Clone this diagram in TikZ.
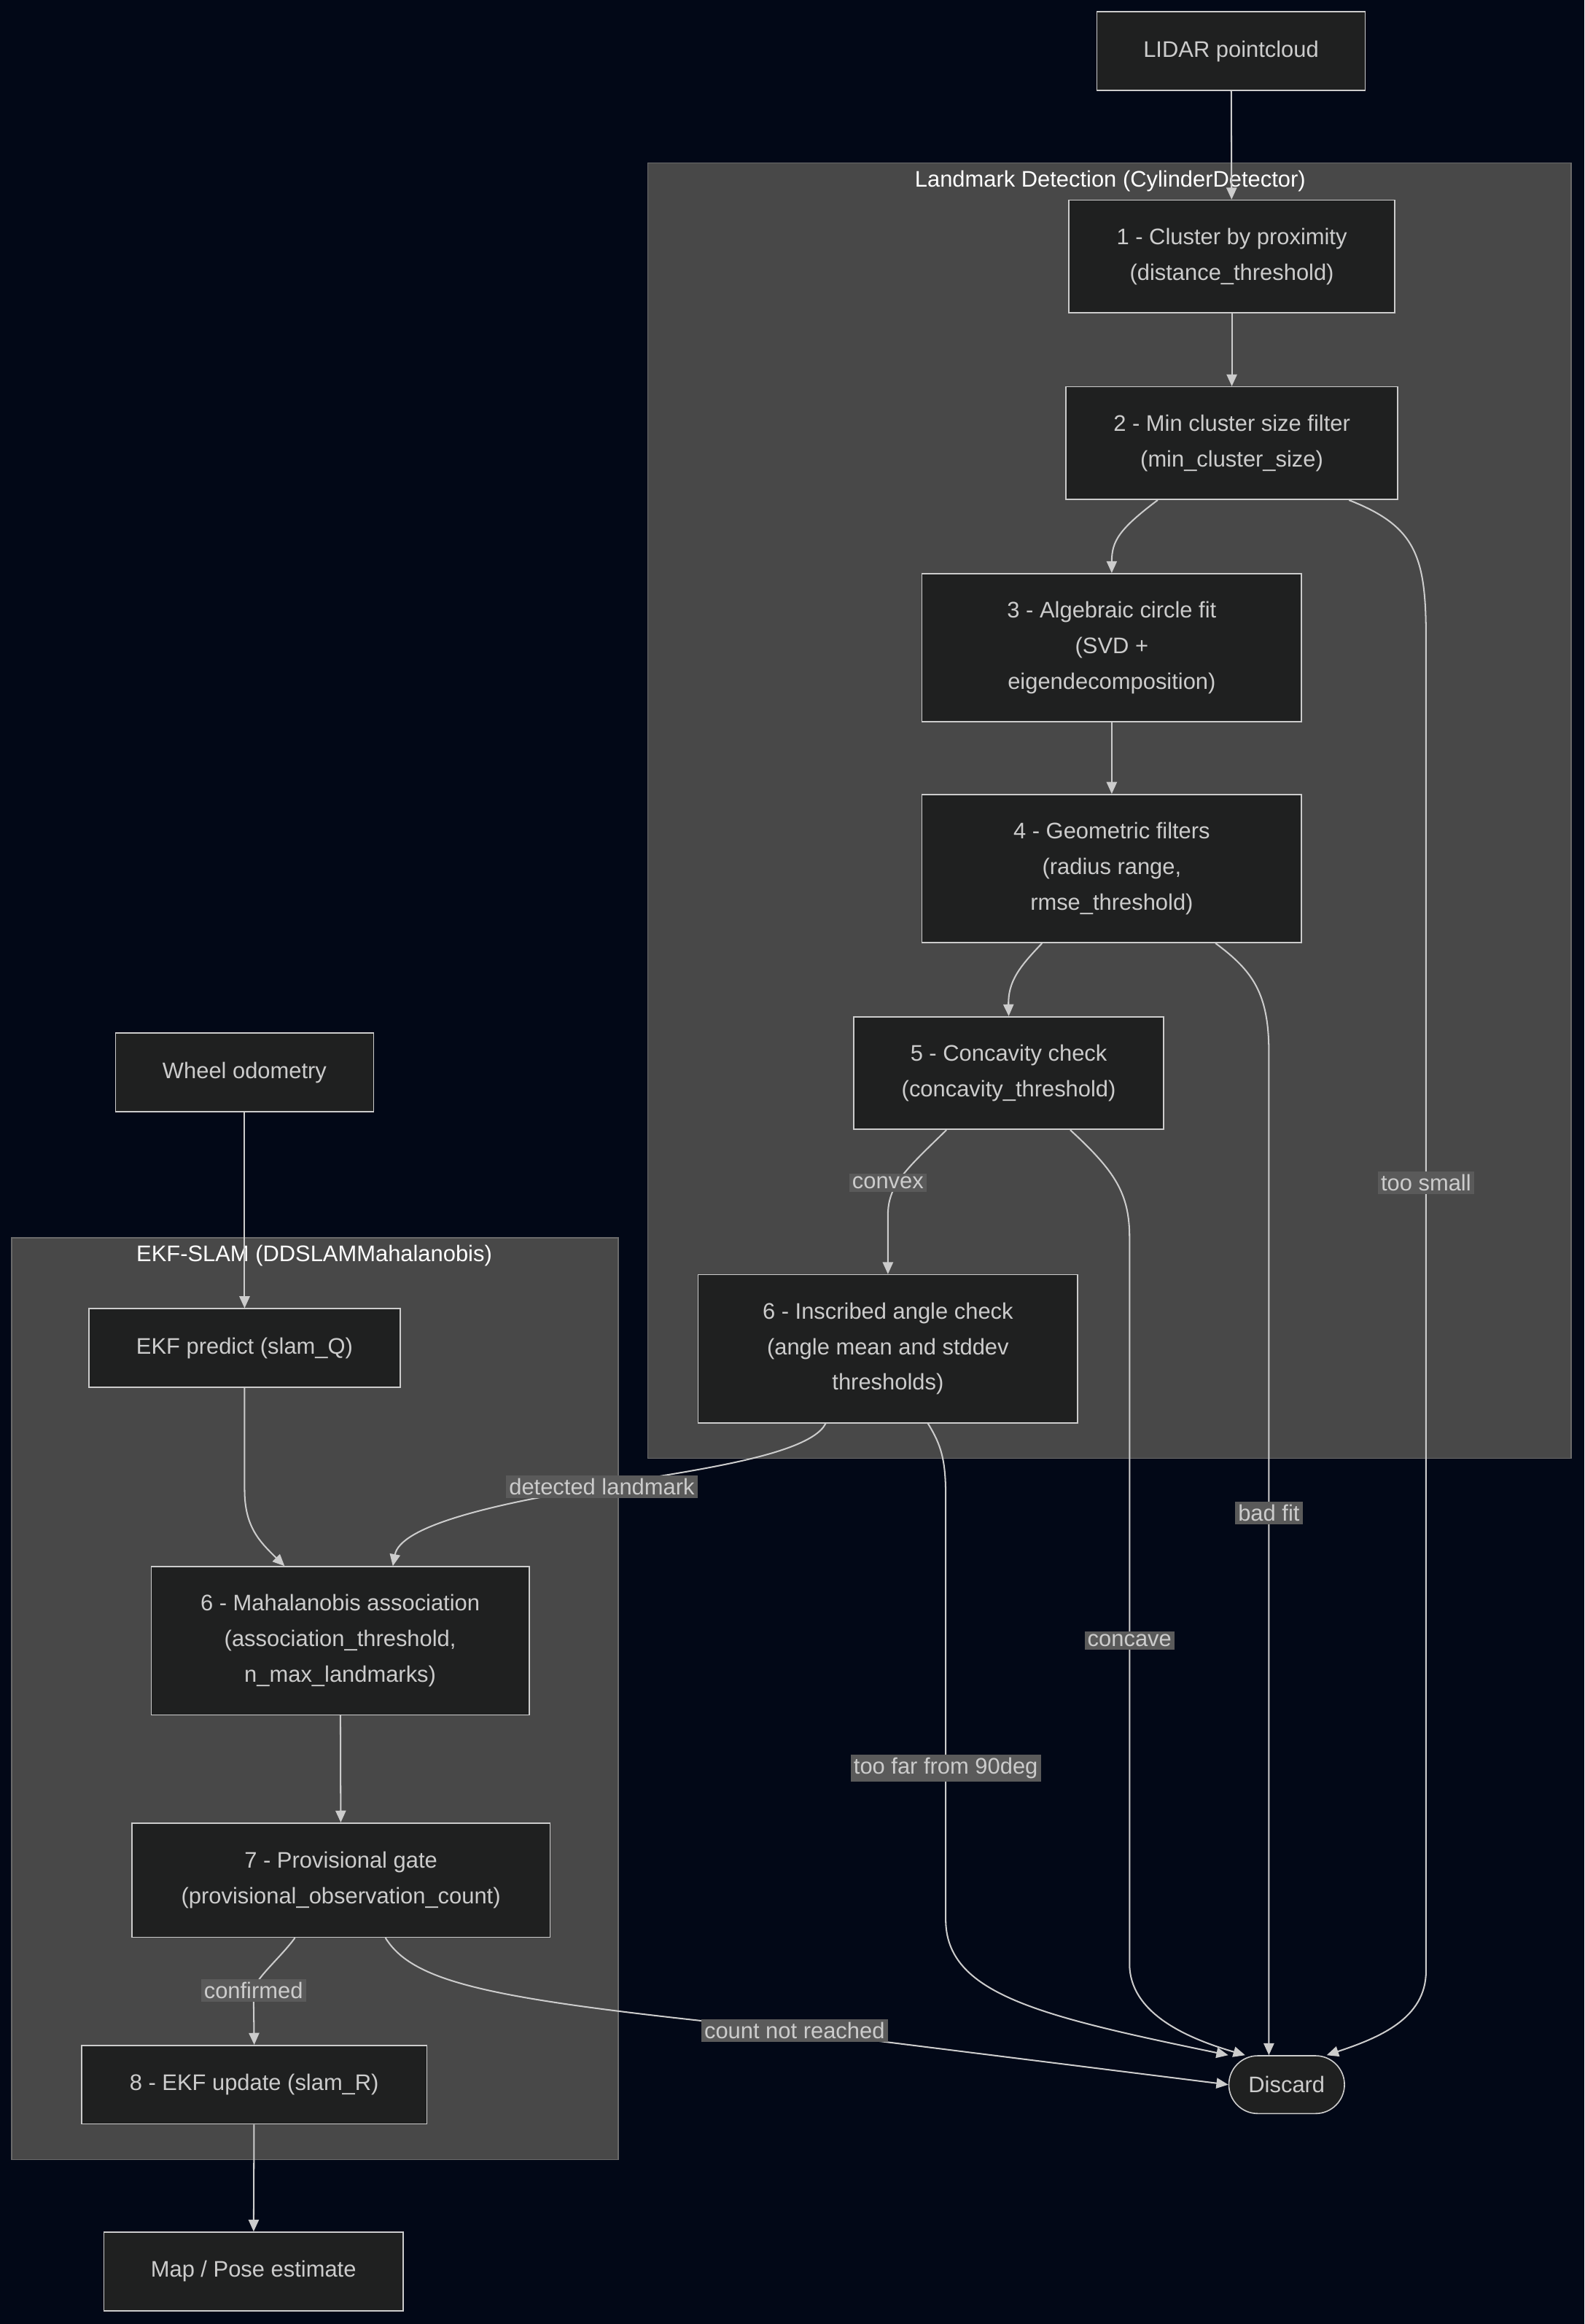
\documentclass[tikz,border=0pt]{standalone}
\usepackage{fontspec}
\setmainfont{Liberation Sans}
\usetikzlibrary{arrows.meta,positioning}
\definecolor{bg}{HTML}{020817}
\definecolor{clu}{HTML}{484848}
\definecolor{clb}{HTML}{6A6A6A}
\definecolor{nf}{HTML}{1F2020}
\definecolor{nb}{HTML}{CCCCCC}
\definecolor{tx}{HTML}{CCCCCC}
\definecolor{lb}{HTML}{5A5A5A}
\begin{document}
\begin{tikzpicture}[x=0.5pt,y=-0.5pt,
  font=\fontsize{7.6}{12}\selectfont,
  box/.style={draw=nb,fill=nf,text=tx,align=center,inner sep=0pt,line width=0.4pt},
  cl/.style={draw=clb,fill=clu,line width=0.4pt},
  ttl/.style={text=white},
  e/.style={draw=nb,line width=0.5pt,-{Triangle[length=4pt,width=3.5pt]}},
  lab/.style={fill=lb,text=tx,inner sep=1pt}]
\fill[bg] (0,0) rectangle (1069,1568);
\useasboundingbox (0,0) rectangle (1069,1568);
\draw[cl] (437,110) rectangle (1060,984);
\node[ttl] (t1) at (749,122) {Landmark Detection (CylinderDetector)};
\draw[cl] (8,835) rectangle (417,1457);
\node[ttl] (t2) at (212,847) {EKF-SLAM (DDSLAMMahalanobis)};

\node[box,minimum width=90.5pt,minimum height=26.5pt] (lidar) at (830.5,34.5) {LIDAR pointcloud};
\node[box,minimum width=110pt,minimum height=38pt] (n1) at (831,173) {1 - Cluster by proximity\\(distance\_threshold)};
\node[box,minimum width=112pt,minimum height=38pt] (n2) at (831,299) {2 - Min cluster size filter\\(min\_cluster\_size)};
\node[box,minimum width=128pt,minimum height=50pt] (n3) at (750,437) {3 - Algebraic circle fit\\(SVD +\\eigendecomposition)};
\node[box,minimum width=128pt,minimum height=50pt] (n4) at (750,586) {4 - Geometric filters\\(radius range,\\rmse\_threshold)};
\node[box,minimum width=104.5pt,minimum height=38pt] (n5) at (680.5,724) {5 - Concavity check\\(concavity\_threshold)};
\node[box,minimum width=128pt,minimum height=50pt] (n6) at (599,910) {6 - Inscribed angle check\\(angle mean and stddev\\thresholds)};
\node[box,minimum width=87pt,minimum height=26.5pt] (wheel) at (165,723.5) {Wheel odometry};
\node[box,minimum width=105pt,minimum height=26.5pt] (pred) at (165,909.5) {EKF predict (slam\_Q)};
\node[box,minimum width=127.5pt,minimum height=50pt] (maha) at (229.5,1107) {6 - Mahalanobis association\\(association\_threshold,\\n\_max\_landmarks)};
\node[box,minimum width=141pt,minimum height=38.5pt] (prov) at (230,1268.5) {7 - Provisional gate\\(provisional\_observation\_count)};
\node[box,minimum width=116.5pt,minimum height=26.5pt] (upd) at (171.5,1406.5) {8 - EKF update (slam\_R)};
\node[box,minimum width=101pt,minimum height=26.5pt] (map) at (171,1532.5) {Map / Pose estimate};
\node[box,rounded corners=9.75pt,minimum width=39pt,minimum height=19.5pt] (disc) at (868,1406.5) {Discard};

\draw[e] (lidar) -- (n1);
\draw[e] (n1) -- (n2);
\draw[e] ([xshift=-25pt]n2.south) .. controls (755,357) and (750,365) .. (n3.north);
\draw[e] ([xshift=39.5pt]n2.south) .. controls (955,355) and (962,375) .. (962,430) -- (962,1330) .. controls (962,1362) and (930,1375) .. ([xshift=13.5pt]disc.north);
\draw[e] (n3) -- (n4);
\draw[e] ([xshift=-23.5pt]n4.south) .. controls (688,652) and (680,662) .. (n5.north);
\draw[e] ([xshift=35pt]n4.south) .. controls (845,655) and (856,670) .. (856,710) -- ([xshift=-6pt]disc.north);
\draw[e] ([xshift=-21pt]n5.south) .. controls (610,790) and (599,800) .. (599,820) -- (n6.north);
\draw[e] ([xshift=20.75pt]n5.south) .. controls (752,790) and (762,805) .. (762,835) -- (762,1325) .. controls (762,1358) and (800,1375) .. ([xshift=-14pt]disc.north);
\draw[e] ([xshift=-21pt]n6.south) .. controls (545,985) and (440,995) .. (406,1003) .. controls (330,1015) and (270,1030) .. ([xshift=17.75pt]maha.north);
\draw[e] ([xshift=13.5pt]n6.south) .. controls (635,975) and (638,985) .. (638,1010) -- (638,1295) .. controls (638,1345) and (700,1360) .. (disc.north west);
\draw[e] (wheel) -- (pred);
\draw[e] (pred.south) -- (165,1005) .. controls (165,1030) and (175,1040) .. ([xshift=-18.75pt]maha.north);
\draw[e] (maha) -- (prov);
\draw[e] ([xshift=-15.5pt]prov.south) .. controls (190,1320) and (172,1335) .. (171,1343) -- (upd.north);
\draw[e] ([xshift=15pt]prov.south) .. controls (280,1340) and (340,1350) .. (536,1370) -- (disc.west);
\draw[e] (upd) -- (map);

\node[lab] (l1) at (962,798) {too small};
\node[lab] (l2) at (856,1021) {bad fit};
\node[lab] (l3) at (762,1107) {concave};
\node[lab] (l4) at (638,1193) {too far from 90deg};
\node[lab] (l5) at (599,798) {convex};
\node[lab] (l6) at (406,1003) {detected landmark};
\node[lab] (l7) at (171,1343) {confirmed};
\node[lab] (l8) at (536,1370) {count not reached};
\end{tikzpicture}
\end{document}
